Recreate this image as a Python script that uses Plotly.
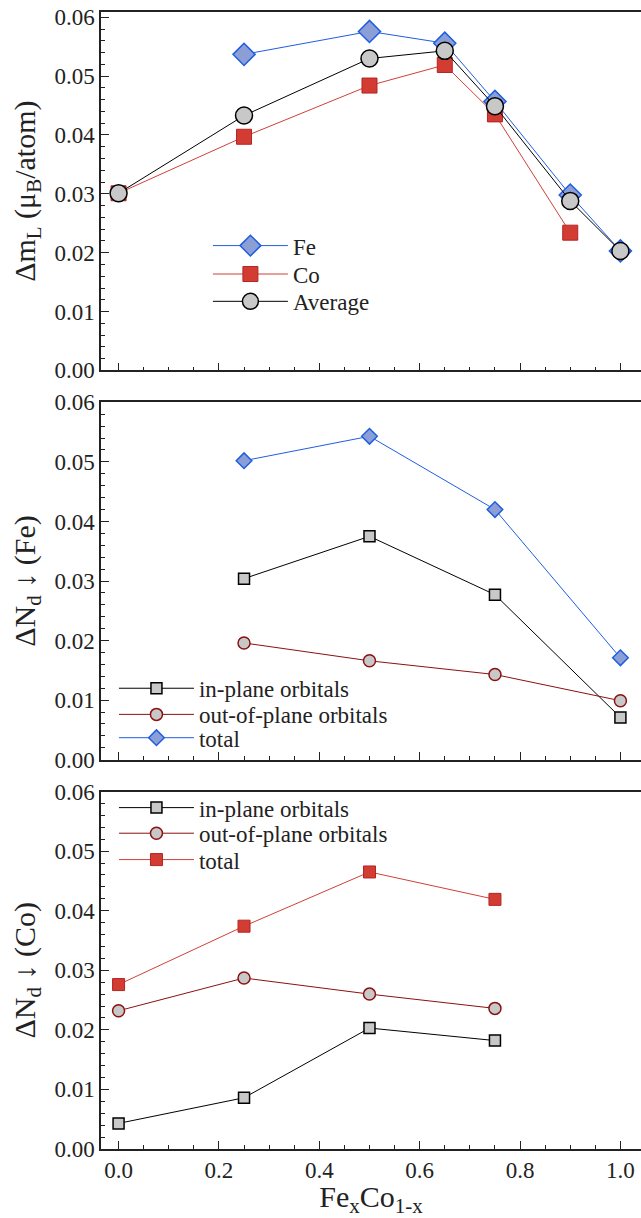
import plotly.graph_objects as go

# ---- data ----
x_top = [0.0, 0.25, 0.5, 0.65, 0.75, 0.9, 1.0]
fe_top_x = [0.25, 0.5, 0.65, 0.75, 0.9, 1.0]
fe_mL = [0.0537, 0.0576, 0.0556, 0.0457, 0.0298, 0.0203]
co_top_x = [0.0, 0.25, 0.5, 0.65, 0.75, 0.9]
co_mL = [0.0301, 0.0397, 0.0484, 0.0519, 0.0435, 0.0234]
avg_mL = [0.0301, 0.0433, 0.0530, 0.0543, 0.0449, 0.0288, 0.0203]

x_fe = [0.25, 0.5, 0.75, 1.0]
fe_inplane = [0.0304, 0.0375, 0.0277, 0.0071]
fe_outplane = [0.0196, 0.0166, 0.0143, 0.0099]
fe_total = [0.0502, 0.0543, 0.0420, 0.0171]

x_co = [0.0, 0.25, 0.5, 0.75]
co_inplane = [0.0043, 0.0086, 0.0203, 0.0182]
co_outplane = [0.0232, 0.0287, 0.0260, 0.0236]
co_total = [0.0276, 0.0374, 0.0465, 0.0419]

x_ticks = [0.0, 0.2, 0.4, 0.6, 0.8, 1.0]
x_ticklabels = ["0.0", "0.2", "0.4", "0.6", "0.8", "1.0"]
y_ticks = [0.00, 0.01, 0.02, 0.03, 0.04, 0.05, 0.06]
y_ticklabels = ["0.00", "0.01", "0.02", "0.03", "0.04", "0.05", "0.06"]

# ---- styles ----
FONT = "Liberation Serif"
BLUE = "#1f5ee0"
BLUE_FILL = "#8b9fd6"
RED = "#d04038"
RED_FILL = "#d23c32"
RED_EDGE = "#b42424"
GREY = "#c8c8c8"
DARKRED = "#8b1010"
INK = "#222222"

fig = go.Figure()

# top panel
fig.add_trace(go.Scatter(x=fe_top_x, y=fe_mL, name="Fe", mode="lines+markers",
                         line=dict(color=BLUE, width=1),
                         marker=dict(symbol="diamond", size=17, color=BLUE_FILL,
                                     line=dict(color=BLUE, width=1.5)),
                         xaxis="x3", yaxis="y3", legend="legend"))
fig.add_trace(go.Scatter(x=co_top_x, y=co_mL, name="Co", mode="lines+markers",
                         line=dict(color=RED, width=1),
                         marker=dict(symbol="square", size=15, color=RED_FILL,
                                     line=dict(color=RED_EDGE, width=1)),
                         xaxis="x3", yaxis="y3", legend="legend2"))
fig.add_trace(go.Scatter(x=x_top, y=avg_mL, name="Average", mode="lines+markers",
                         line=dict(color="black", width=1),
                         marker=dict(symbol="circle", size=17, color=GREY,
                                     line=dict(color="black", width=1.5)),
                         xaxis="x3", yaxis="y3", legend="legend3"))

# middle panel (Fe)
fig.add_trace(go.Scatter(x=x_fe, y=fe_inplane, name="in-plane orbitals", mode="lines+markers",
                         line=dict(color="black", width=1),
                         marker=dict(symbol="square", size=11, color=GREY,
                                     line=dict(color="black", width=1.5)),
                         xaxis="x2", yaxis="y2", legend="legend4"))
fig.add_trace(go.Scatter(x=x_fe, y=fe_outplane, name="out-of-plane orbitals", mode="lines+markers",
                         line=dict(color=DARKRED, width=1),
                         marker=dict(symbol="circle", size=12, color=GREY,
                                     line=dict(color=DARKRED, width=1.5)),
                         xaxis="x2", yaxis="y2", legend="legend5"))
fig.add_trace(go.Scatter(x=x_fe, y=fe_total, name="total", mode="lines+markers",
                         line=dict(color=BLUE, width=1),
                         marker=dict(symbol="diamond", size=12, color=BLUE_FILL,
                                     line=dict(color=BLUE, width=1.5)),
                         xaxis="x2", yaxis="y2", legend="legend6"))

# bottom panel (Co)
fig.add_trace(go.Scatter(x=x_co, y=co_inplane, name="in-plane orbitals", mode="lines+markers",
                         line=dict(color="black", width=1),
                         marker=dict(symbol="square", size=11, color=GREY,
                                     line=dict(color="black", width=1.5)),
                         xaxis="x", yaxis="y", legend="legend7"))
fig.add_trace(go.Scatter(x=x_co, y=co_outplane, name="out-of-plane orbitals", mode="lines+markers",
                         line=dict(color=DARKRED, width=1),
                         marker=dict(symbol="circle", size=12, color=GREY,
                                     line=dict(color=DARKRED, width=1.5)),
                         xaxis="x", yaxis="y", legend="legend8"))
fig.add_trace(go.Scatter(x=x_co, y=co_total, name="total", mode="lines+markers",
                         line=dict(color=RED, width=1),
                         marker=dict(symbol="square", size=12, color=RED_FILL,
                                     line=dict(color=RED_EDGE, width=1)),
                         xaxis="x", yaxis="y", legend="legend9"))

XR = [-0.035, 1.041]
tickfont = dict(family=FONT, size=23, color=INK)
titlefont = dict(family=FONT, size=30, color=INK)

def xax(anchor, show_labels, title=None):
    d = dict(range=XR, anchor=anchor, tickmode="array", tickvals=x_ticks,
             ticktext=x_ticklabels, showticklabels=show_labels,
             ticks="inside", ticklen=8, tickwidth=1, tickcolor=INK,
             minor=dict(ticks="inside", dtick=0.05, ticklen=4, tickcolor=INK),
             showline=True, linecolor=INK, linewidth=1.5, mirror=True,
             showgrid=False, zeroline=False, tickfont=tickfont)
    if title:
        d["title"] = dict(text=title, font=titlefont, standoff=2)
    return d

def yax(anchor, domain, yr, title):
    return dict(domain=domain, anchor=anchor, range=yr, tickmode="array",
                tickvals=y_ticks, ticktext=y_ticklabels,
                ticks="inside", ticklen=8, tickwidth=1, tickcolor=INK,
                minor=dict(ticks="inside", dtick=0.002, ticklen=4, tickcolor=INK),
                showline=True, linecolor=INK, linewidth=1.5,
                showgrid=False, zeroline=False, tickfont=tickfont,
                title=dict(text=title, font=titlefont, standoff=10))

legfont = dict(family=FONT, size=23, color=INK)

def leg(x, y):
    return dict(x=x, y=y, xanchor="left", yanchor="middle", font=legfont,
                bgcolor="rgba(0,0,0,0)", itemwidth=75, borderwidth=0)

# legend anchor positions (paper fractions)
top_leg_x = 0.198
low_leg_x = 0.024

fig.update_layout(
    width=641, height=1218,
    margin=dict(l=101, r=0, t=7, b=69),
    plot_bgcolor="white", paper_bgcolor="white",
    font=dict(family=FONT, color=INK),
    showlegend=True,
    xaxis=xax("y", True, "Fe<sub>x</sub>Co<sub>1-x</sub>"),
    xaxis2=xax("y2", False),
    xaxis3=xax("y3", False),
    yaxis=yax("x", [0.0, 0.3144], [0, 0.06], "ΔN<sub>d</sub> ↓ (Co)"),
    yaxis2=yax("x2", [0.3424, 0.6567], [0, 0.06], "ΔN<sub>d</sub> ↓ (Fe)"),
    yaxis3=yax("x3", [0.6848, 1.0], [0, 0.0609], "Δm<sub>L</sub> (μ<sub>B</sub>/atom)"),
    legend=leg(top_leg_x, 0.7945),
    legend2=leg(top_leg_x, 0.7695),
    legend3=leg(top_leg_x, 0.7455),
    legend4=leg(low_leg_x, 0.4052),
    legend5=leg(low_leg_x, 0.3822),
    legend6=leg(low_leg_x, 0.3617),
    legend7=leg(low_leg_x, 0.3002),
    legend8=leg(low_leg_x, 0.2777),
    legend9=leg(low_leg_x, 0.2545),
)

fig.write_html("out.html")
